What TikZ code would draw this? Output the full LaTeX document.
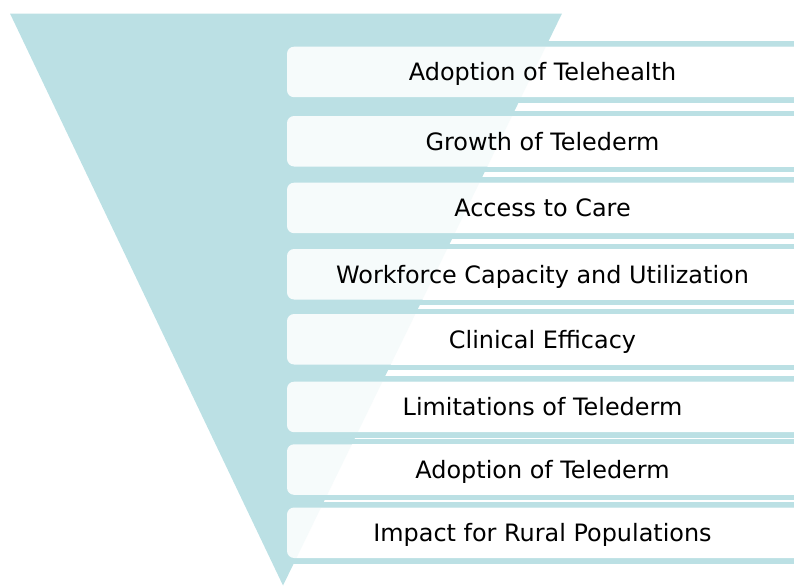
\documentclass[tikz,border=0pt]{standalone}
\usepackage{fontspec}
\setmainfont{DejaVu Sans}
\usepackage{xcolor}
\definecolor{funnelteal}{RGB}{187,224,228}
\tikzset{
    band/.style={fill=funnelteal},
    bandgap/.style={fill=white},
    itembox/.style={fill=white, fill opacity=0.88, rounded corners=5},
    itemtext/.style={font=\fontsize{17}{20}\selectfont, text=black, inner sep=0pt, anchor=base},
}

\begin{document}
\begin{tikzpicture}[x=0.025cm, y=-0.025cm]% one unit = one pixel, y downwards
\useasboundingbox (0,0) rectangle (794,585);
\clip (0,0) rectangle (794,585);

% teal bands behind every box
\foreach \t in {46.7,116,182.7,249,314,381.7,444.3,507.5}{
  \fill[band]    (287,\t-5.5) rectangle (830,\t+56);
  \fill[bandgap] (287,\t) rectangle (830,\t+50.5);
}

% the funnel
\fill[funnelteal] (10,13.5) -- (562,13.5) -- (283,585.5) -- cycle;

% boxes with their labels
\foreach \t/\name/\txt in {
    46.7/adopttele/Adoption of Telehealth,
    116/growth/Growth of Telederm,
    182.7/access/Access to Care,
    249/workforce/Workforce Capacity and Utilization,
    314/efficacy/Clinical Efficacy,
    381.7/limits/Limitations of Telederm,
    444.3/adoptderm/Adoption of Telederm,
    507.5/rural/Impact for Rural Populations}{
  \fill[itembox] (287,\t) rectangle (840,\t+50.5);
  \node[itemtext] (\name) at (542.5,\t+34) {\txt};
}
\end{tikzpicture}
\end{document}
